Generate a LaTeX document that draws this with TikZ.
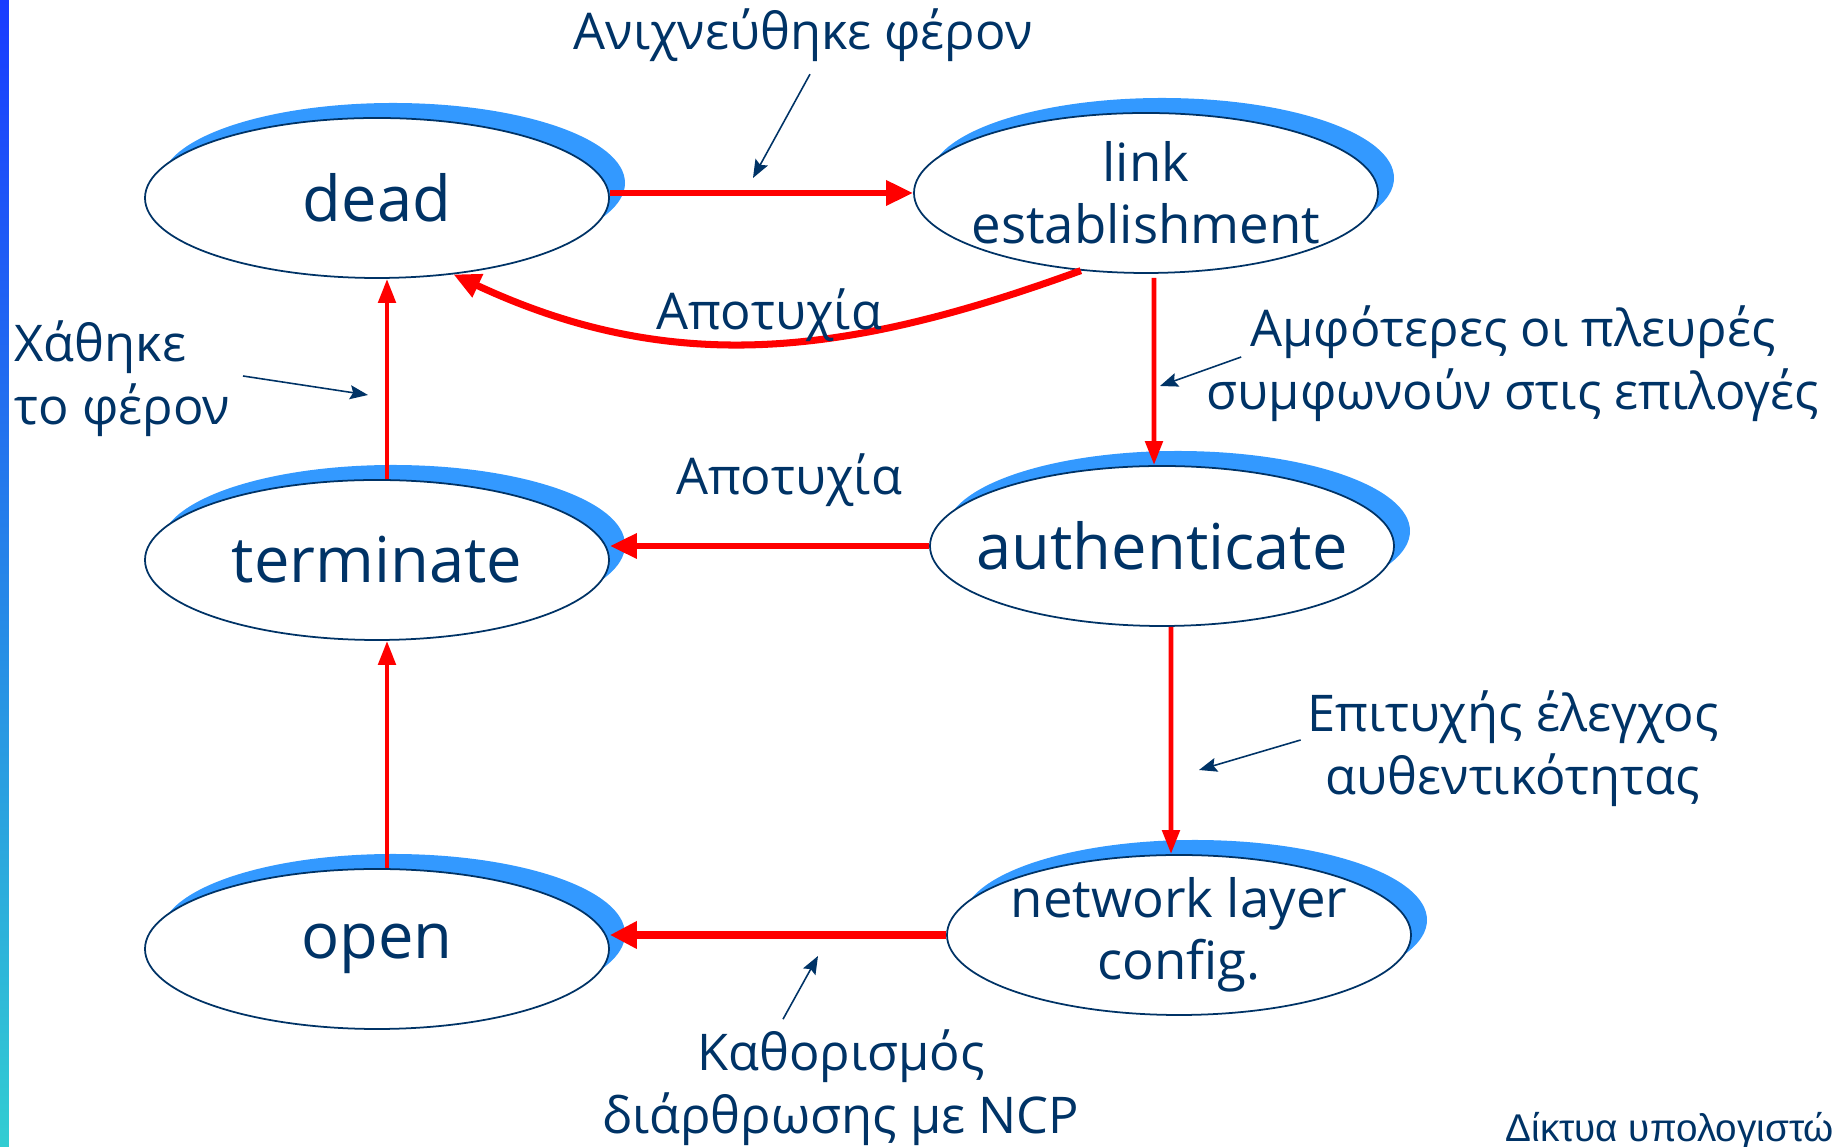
\documentclass[tikz,border=0pt]{standalone}
\usepackage{fontspec}
\setmainfont{Open Sans}
\newfontfamily\footfont{Liberation Sans}
\usetikzlibrary{arrows.meta,shapes.geometric,shadows}

\definecolor{NavyText}{RGB}{0,51,102}
\definecolor{ShadowBlue}{RGB}{51,153,255}
\definecolor{ArrowRed}{RGB}{255,0,0}
\definecolor{BarBlue}{RGB}{25,60,255}
\definecolor{BarMid}{RGB}{40,140,230}
\definecolor{BarTeal}{RGB}{50,205,210}

\tikzset{
    phase/.style={ellipse, draw=NavyText, line width=0.5pt, fill=white, minimum width=4.64cm, minimum height=1.6cm, inner xsep=-1.2cm, inner ysep=-0.5cm, text=NavyText, align=center, font=\fontsize{18}{20}\selectfont, drop shadow={fill=ShadowBlue, opacity=1, shadow xshift=0.16cm, shadow yshift=0.15cm}},
    smallphase/.style={phase, font=\fontsize{15}{17.6}\selectfont},
    trans/.style={draw=ArrowRed, line width=1.8pt, -{Triangle[length=0.27cm, width=0.24cm]}},
    note/.style={text=NavyText, align=center, inner sep=0pt, font=\fontsize{14.4}{18}\selectfont},
    pointer/.style={draw=NavyText, line width=0.45pt, -{Stealth[length=0.18cm, width=0.14cm, inset=0.03cm]}}
}

\begin{document}
\begin{tikzpicture}
    \useasboundingbox (0,0) rectangle (18.32,-11.47);
    \shade[top color=BarBlue, middle color=BarMid, bottom color=BarTeal] (0,0) rectangle (0.09,-11.47);

    % Nodes
    \node[phase] (Dead) at (3.77,-1.98) {dead};
    \node[smallphase] (LinkEst) at (11.46,-1.93) {link\\establishment};
    \node[phase] (Authenticate) at (11.62,-5.46) {authenticate};
    \node[phase] (Terminate) at (3.77,-5.60) {terminate};
    \node[phase] (Open) at (3.77,-9.49) {open};
    \node[smallphase] (NetConfig) at (11.79,-9.35) {network layer\\config.};

    % Edges
    \draw[trans] (LinkEst.west -| Dead.east) -- (LinkEst.west);
    \draw[trans, line width=2pt] (LinkEst.230) to[out=200, in=335] (Dead.315);
    \draw[trans, line width=1.4pt, -{Triangle[length=0.24cm, width=0.17cm]}] ([xshift=0.08cm, yshift=-0.04cm]LinkEst.south) -- ([xshift=-0.08cm]Authenticate.north);
    \draw[trans] (Authenticate.west) -- (Authenticate.west -| Terminate.east);
    \draw[trans, line width=1.4pt, -{Triangle[length=0.24cm, width=0.17cm]}] ([xshift=0.1cm]Terminate.north) -- ([xshift=0.1cm]Dead.south);
    \draw[trans, line width=1.4pt, -{Triangle[length=0.24cm, width=0.17cm]}] ([xshift=0.09cm]Authenticate.south) -- ([xshift=-0.08cm]NetConfig.north);
    \draw[trans, line width=1.4pt, -{Triangle[length=0.24cm, width=0.17cm]}] ([xshift=0.1cm]Open.north) -- ([xshift=0.1cm]Terminate.south);
    \draw[trans, line width=2.3pt, -{Triangle[length=0.27cm, width=0.26cm]}] (NetConfig.west) -- (NetConfig.west -| Open.east);

    % Labels and pointers
    \node[note] (LblDetect) at (8.03,-0.35) {Ανιχνεύθηκε φέρον};
    \coordinate (DetectTip) at (7.53,-1.78);
    \draw[pointer] ([xshift=0.07cm, yshift=-0.12cm]LblDetect.south) -- (DetectTip);

    \node[note] (LblFailA) at (7.69,-3.15) {Αποτυχία};
    \node[note] (LblFailB) at (7.89,-4.80) {Αποτυχία};

    \node[note, anchor=west, align=left] (LblLost) at (0.14,-3.79) {Χάθηκε\\το φέρον};
    \coordinate (LostTip) at (3.68,-3.95);
    \draw[pointer] ([xshift=0.12cm, yshift=0.03cm]LblLost.east) -- (LostTip);

    \node[note] (LblAgree) at (15.13,-3.64) {Αμφότερες οι πλευρές\\συμφωνούν στις επιλογές};
    \coordinate (AgreeTip) at (11.60,-3.86);
    \draw[pointer] ([xshift=0.35cm, yshift=0.07cm]LblAgree.west) -- (AgreeTip);

    \node[note] (LblAuthOk) at (15.13,-7.49) {Επιτυχής έλεγχος\\αυθεντικότητας};
    \coordinate (AuthOkTip) at (11.99,-7.70);
    \draw[pointer] ([xshift=-0.06cm, yshift=0.09cm]LblAuthOk.west) -- (AuthOkTip);

    \node[note] (LblNcp) at (8.41,-10.88) {Καθορισμός\\διάρθρωσης με NCP};
    \coordinate (NcpTip) at (8.18,-9.56);
    \draw[pointer] ([xshift=-0.58cm, yshift=0.1cm]LblNcp.north) -- (NcpTip);

    \node[anchor=base west, inner sep=0pt, text=NavyText, font=\footfont\fontsize{11}{13}\selectfont] (Footer) at (15.05,-11.42) {Δίκτυα υπολογιστών};
\end{tikzpicture}
\end{document}
